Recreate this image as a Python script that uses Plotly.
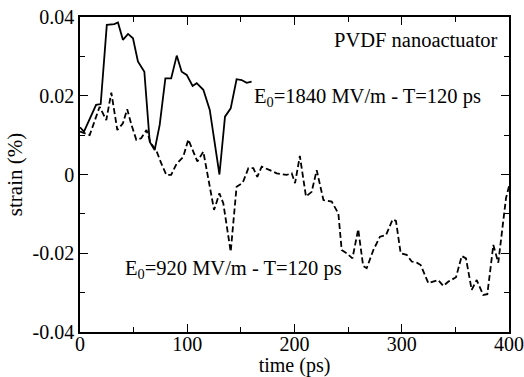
import plotly.graph_objects as go

# Solid curve: E0 = 1840 MV/m
t_1840 = [0, 3.7, 15, 19.3, 25, 32, 35.4, 40, 44.8, 49.4, 54, 60, 65, 69.6, 74.3, 79.6, 85, 90.2,
          94.8, 99.5, 105, 108.8, 115, 121, 130, 135.2, 140.5, 146, 150.7, 155.4, 160]
s_1840 = [0.012, 0.0109, 0.0177, 0.0179, 0.038, 0.0382, 0.0386, 0.0342, 0.0357, 0.0346, 0.0287,
          0.0261, 0.0083, 0.0062, 0.0126, 0.0244, 0.0244, 0.0302, 0.0261, 0.0253, 0.0225, 0.0232,
          0.0215, 0.0164, 0.0, 0.0147, 0.0168, 0.0242, 0.024, 0.0233, 0.0236]

# Dashed curve: E0 = 920 MV/m
t_920 = [0, 9, 18.3, 24.5, 29.2, 34.8, 40, 44, 48, 52.5, 57, 62, 66, 71, 75.8, 80.5, 85, 90,
         96.3, 101, 109.4, 115, 125, 130, 133.6, 140.5, 146, 151.7, 157, 161.6, 165.3, 169.4,
         177, 183.4, 192.7, 197.4, 200.5, 205, 210.7, 216, 220.7, 227, 234.7, 240.9, 244, 248.6,
         254, 259.4, 264, 267.3, 273.5, 279.7, 285.3, 291.5, 294.6, 299, 304.6, 309.3, 314,
         317.7, 324.8, 334, 338.8, 343.5, 350.6, 355.9, 359.9, 365.2, 369.9, 376, 379.8, 385.4,
         390, 393, 397.2, 400]
s_920 = [0.0109, 0.010, 0.0172, 0.0138, 0.0208, 0.0113, 0.013, 0.0166, 0.0126, 0.0088, 0.0092,
         0.0113, 0.0079, 0.0062, 0.0028, -0.0001, -0.0001, 0.0027, 0.0045, 0.0089, 0.0033, 0.0058,
         -0.009, -0.0048, -0.0073, -0.0196, -0.0031, -0.0021, 0.0016, 0.0016, -0.0006, 0.002,
         0.0011, 0.0003, -0.0001, 0.0003, -0.0022, 0.0047, -0.0056, -0.0044, 0.0011, -0.0065,
         -0.0069, -0.0099, -0.0192, -0.020, -0.0213, -0.0139, -0.0232, -0.0238, -0.0192, -0.0158,
         -0.0154, -0.0114, -0.0118, -0.020, -0.0204, -0.0221, -0.0224, -0.023, -0.0276, -0.0268,
         -0.0283, -0.0272, -0.0261, -0.0207, -0.0213, -0.0293, -0.0268, -0.0306, -0.0304, -0.0179,
         -0.0224, -0.0158, -0.006, -0.003]

x_ticks = [0, 100, 200, 300, 400]
x_ticktext = ["0", "100", "200", "300", "400"]
y_ticks = [0.04, 0.02, 0, -0.02, -0.04]
y_ticktext = ["0.04", "0.02", "0", "-0.02", "-0.04"]

FONT = "Liberation Serif"

fig = go.Figure()
fig.add_trace(go.Scatter(x=t_1840, y=s_1840, mode="lines",
                         line=dict(color="black", width=1.8), showlegend=False))
fig.add_trace(go.Scatter(x=t_920, y=s_920, mode="lines",
                         line=dict(color="black", width=1.8, dash="6px,3px"), showlegend=False))

axis_common = dict(showgrid=False, zeroline=False, showline=True, linecolor="black",
                   linewidth=1.5, mirror="allticks", ticks="inside", ticklen=8,
                   tickwidth=1.2, tickcolor="black", automargin=False,
                   tickfont=dict(family=FONT, size=20, color="black"))

fig.update_xaxes(range=[0, 400], tickvals=x_ticks, ticktext=x_ticktext,
                 ticklabelstandoff=-7,
                 minor=dict(dtick=50, ticklen=5, ticks="inside", tickcolor="black", tickwidth=1.2),
                 title=dict(text="time (ps)", font=dict(family=FONT, size=20, color="black"),
                            standoff=0),
                 **axis_common)
fig.update_yaxes(range=[-0.04, 0.04], tickvals=y_ticks, ticktext=y_ticktext,
                 minor=dict(dtick=0.01, ticklen=5, ticks="inside", tickcolor="black", tickwidth=1.2),
                 title=dict(text="strain (%)", font=dict(family=FONT, size=21, color="black"),
                            standoff=4),
                 **axis_common)

ann_font = dict(family=FONT, size=20.5, color="black")
fig.add_annotation(x=235, y=0.0342, text="PVDF nanoactuator", showarrow=False,
                   xanchor="left", yanchor="middle", font=ann_font)
fig.add_annotation(x=160.4, y=0.0196, text="E<sub>0</sub>=1840 MV/m - T=120 ps", showarrow=False,
                   xanchor="left", yanchor="middle", font=ann_font)
fig.add_annotation(x=40, y=-0.0240, text="E<sub>0</sub>=920 MV/m - T=120 ps", showarrow=False,
                   xanchor="left", yanchor="middle", font=ann_font)

fig.update_layout(width=524, height=377, margin=dict(l=80, r=15, t=17, b=45),
                  paper_bgcolor="white", plot_bgcolor="white",
                  font=dict(family=FONT, size=18, color="black"))

fig.write_html("out.html")
